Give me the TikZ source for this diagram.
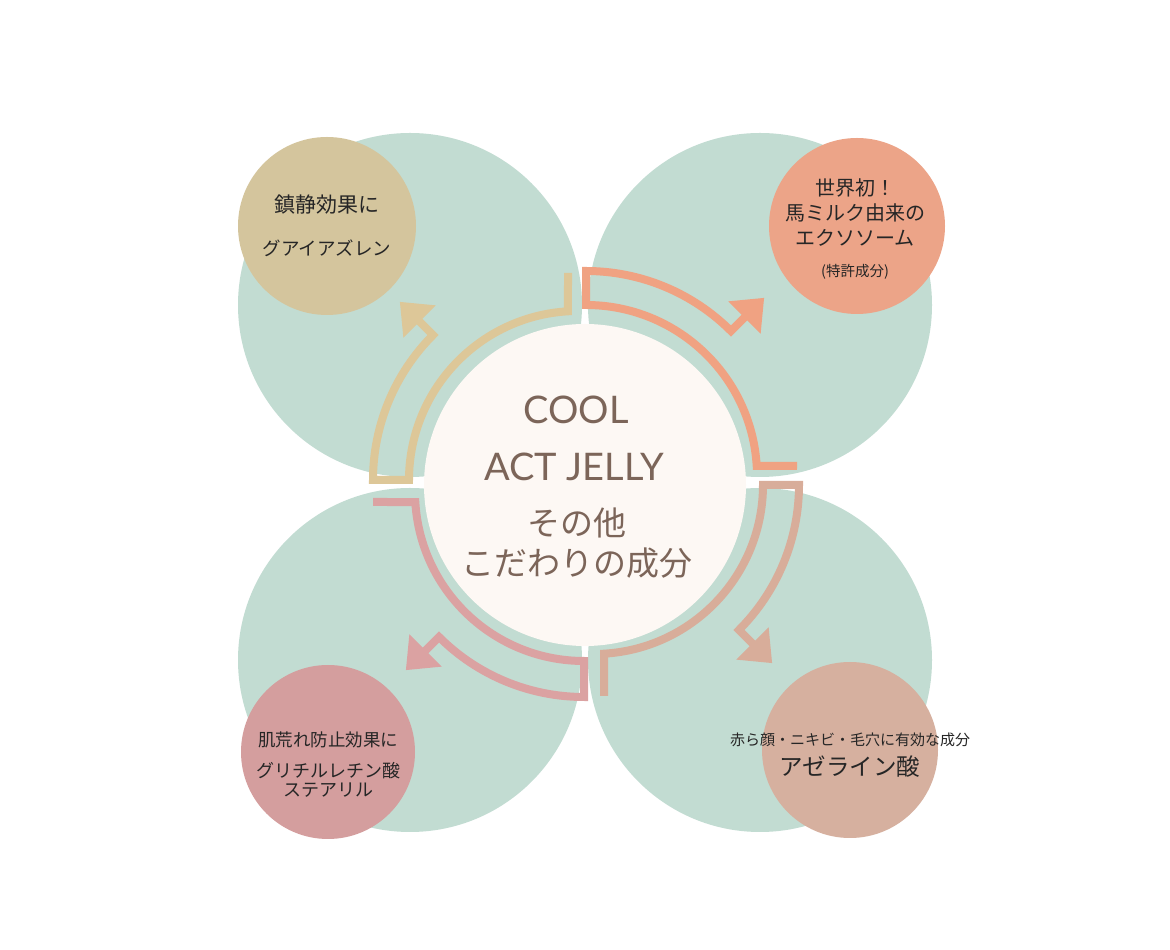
\documentclass[tikz,border=0pt]{standalone}
\usepackage{fontspec}
\newfontfamily\jpfont{Noto Sans CJK JP}
\newfontfamily\titlefont{Lato}
\usetikzlibrary{positioning, arrows.meta, calc}

\definecolor{mint}{HTML}{C2DCD2}
\definecolor{cream}{HTML}{FDF8F4}
\definecolor{goldc}{HTML}{D4C59D}
\definecolor{golda}{HTML}{DDC798}
\definecolor{salmonc}{HTML}{ECA488}
\definecolor{salmona}{HTML}{F0A282}
\definecolor{pinkc}{HTML}{D49E9E}
\definecolor{pinka}{HTML}{DBA2A2}
\definecolor{tanc}{HTML}{D6B09F}
\definecolor{tana}{HTML}{D8AD9A}
\definecolor{brownt}{HTML}{7C6559}

\begin{document}
\begin{tikzpicture}[x=1pt, y=1pt,
    petal/.style={circle, fill=mint, minimum size=344pt, inner sep=0pt},
    hub/.style={circle, fill=cream, minimum size=322pt, inner sep=0pt},
    badge/.style={circle, minimum size=176pt, inner sep=0pt},
    cyclearrow/.style={line width=8pt, line join=miter, -{Triangle[length=28pt, width=44pt]}},
    jptext/.style={font=\jpfont, text=black!85, align=center, inner sep=0pt},
    hubtext/.style={text=brownt, align=center, inner sep=0pt},
]
\fill[white] (0,0) rectangle (1170,950);
\useasboundingbox (0,0) rectangle (1170,950);

% background petals
\node[petal] (petaltl) at (410,645) {};
\node[petal] (petaltr) at (760,645) {};
\node[petal] (petalbl) at (410,290) {};
\node[petal] (petalbr) at (760,290) {};

% centre
\node[hub] (hub) at (585,465) {};

% arrow centres
\coordinate (gc) at (578,470);
\coordinate (sc) at (586,474);
\coordinate (tc) at (594,465);
\coordinate (pc) at (584,458);

% gold arrow
\draw[cyclearrow, golda] ($(gc)+(-10,207)$) -- ($(gc)+(93.4:169pt)$)
    arc[start angle=93.4, end angle=180, radius=169pt] -- ($(gc)+(180:205pt)$)
    arc[start angle=180, end angle=135, radius=205pt] -- ($(gc)+(135:252pt)$);
% salmon arrow
\draw[cyclearrow, salmona] ($(sc)+(211,10)$) -- ($(sc)+(3.4:171pt)$)
    arc[start angle=3.4, end angle=90, radius=171pt] -- ($(sc)+(90:205pt)$)
    arc[start angle=90, end angle=45, radius=205pt] -- ($(sc)+(45:252pt)$);
% tan arrow
\draw[cyclearrow, tana] ($(tc)+(10,-211)$) -- ($(tc)+(273.4:169pt)$)
    arc[start angle=273.4, end angle=360, radius=169pt] -- ($(tc)+(0:205pt)$)
    arc[start angle=360, end angle=315, radius=205pt] -- ($(tc)+(315:252pt)$);
% pink arrow
\draw[cyclearrow, pinka] ($(pc)+(-211,-10)$) -- ($(pc)+(183.4:169pt)$)
    arc[start angle=183.4, end angle=270, radius=169pt] -- ($(pc)+(270:205pt)$)
    arc[start angle=270, end angle=225, radius=205pt] -- ($(pc)+(225:252pt)$);

% ingredient badges
\node[badge, fill=goldc, minimum size=178pt] (azulene) at (327,724) {};
\node[badge, fill=salmonc] (exosome) at (857,724) {};
\node[badge, fill=pinkc, minimum size=174pt] (glycyr) at (328,198) {};
\node[badge, fill=tanc] (azelaic) at (850,200) {};

% badge texts
\node[jptext, font=\jpfont\fontsize{21}{25}\selectfont] (azulenea) at (327,745) {鎮静効果に};
\node[jptext, font=\jpfont\fontsize{18.5}{22}\selectfont] (azuleneb) at (327,702) {グアイアズレン};
\node[jptext, font=\jpfont\fontsize{20}{25}\selectfont] (exosomea) at (855,737) {世界初！\\馬ミルク由来の\\エクソソーム};
\node[jptext, font=\jpfont\fontsize{14.5}{17}\selectfont] (exosomeb) at (855,678) {(特許成分)};
\node[jptext, font=\jpfont\fontsize{17.5}{21}\selectfont] (glycyra) at (328,210) {肌荒れ防止効果に};
\node[jptext, font=\jpfont\fontsize{18}{19}\selectfont] (glycyrb) at (328,170) {グリチルレチン酸\\ステアリル};
\node[jptext, font=\jpfont\fontsize{15}{18}\selectfont] (azelaica) at (850,210) {赤ら顔・ニキビ・毛穴に有効な成分};
\node[jptext, font=\jpfont\fontsize{23.5}{27}\selectfont] (azelaicb) at (850,183) {アゼライン酸};

% centre texts
\node[hubtext, font=\titlefont\fontsize{38}{44}\selectfont] (cool) at (576,540) {COOL};
\node[hubtext, font=\titlefont\fontsize{38}{44}\selectfont] (jelly) at (574,483) {ACT JELLY};
\node[hubtext, font=\jpfont\fontsize{33}{40}\selectfont] (others) at (577,427) {その他};
\node[hubtext, font=\jpfont\fontsize{33}{40}\selectfont] (special) at (577,387) {こだわりの成分};
\end{tikzpicture}
\end{document}
